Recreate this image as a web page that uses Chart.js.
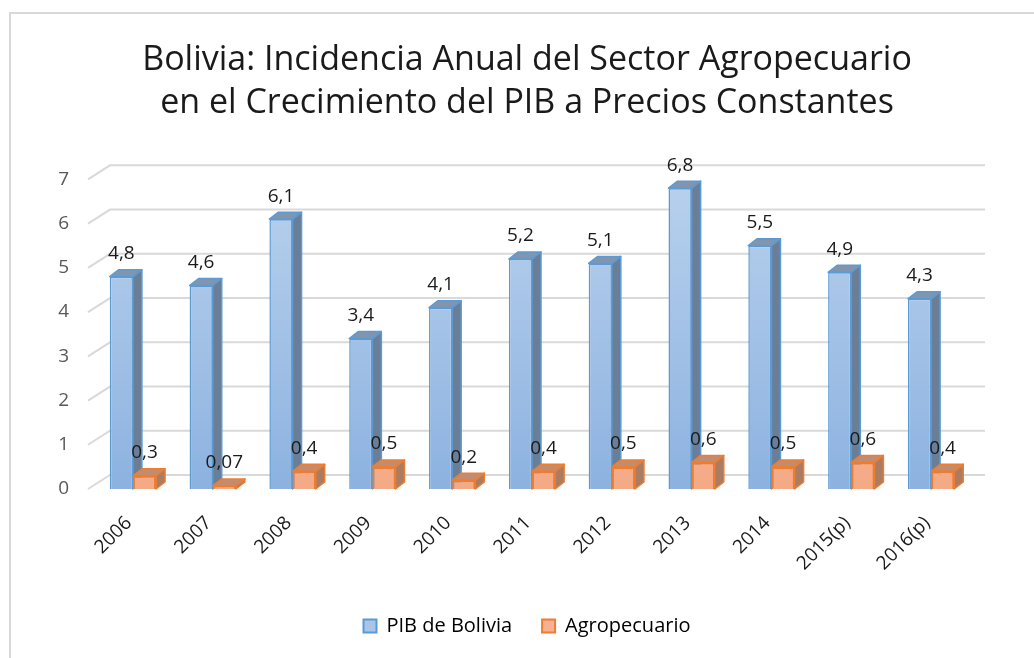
<!DOCTYPE html>
<html>
<head>
<meta charset="utf-8">
<script src="https://cdn.jsdelivr.net/npm/chart.js@4.4.1/dist/chart.umd.min.js"></script>
<style>
  body { margin: 0; background: #fff; }
  #wrap { width: 1034px; height: 658px; }
</style>
</head>
<body>
<div id="wrap"><canvas id="chart" width="1034" height="658"></canvas></div>
<script>
// Data
const years = ['2006', '2007', '2008', '2009', '2010', '2011', '2012', '2013', '2014', '2015(p)', '2016(p)'];
const pibBolivia = [4.8, 4.6, 6.1, 3.4, 4.1, 5.2, 5.1, 6.8, 5.5, 4.9, 4.3];
const agropecuario = [0.3, 0.07, 0.4, 0.5, 0.2, 0.4, 0.5, 0.6, 0.5, 0.6, 0.4];
const yTicks = [0, 1, 2, 3, 4, 5, 6, 7];

const FONT = '"Open Sans", "Noto Sans", sans-serif';
const DEPTH_X = 9, DEPTH_Y = 7;

// colours for front / top / side faces
const faces = [
    { top: '#b8d1ed', bottom: '#8db2e0', edge: '#5b9bd5', lid: '#8195af', side: '#6a7e98' },
    { top: '#f9bca0', bottom: '#f5aa86', edge: '#ed7d31', lid: '#c48c6d', side: '#ab7c62' }
];

function frontFill(i) {
    return (ctx) => {
        const area = ctx.chart.chartArea;
        if (!area) return faces[i].bottom;
        const g = ctx.chart.ctx.createLinearGradient(0, area.top, 0, area.bottom);
        g.addColorStop(0, faces[i].top);
        g.addColorStop(1, faces[i].bottom);
        return g;
    };
}

function fmt(v) {
    return String(v).replace('.', ',');
}

// outer frame of the chart
const framePlugin = {
    id: 'frame',
    beforeDraw(chart) {
        const ctx = chart.ctx;
        ctx.save();
        ctx.fillStyle = '#fff';
        ctx.fillRect(0, 0, chart.width, chart.height);
        ctx.strokeStyle = '#d9d9d9';
        ctx.lineWidth = 2;
        ctx.strokeRect(10, 13, chart.width + 20, chart.height + 20);
        ctx.restore();
    }
};

// gridlines on a back wall with floor diagonals
const wallPlugin = {
    id: 'wall',
    beforeDatasetsDraw(chart) {
        const ctx = chart.ctx;
        const area = chart.chartArea;
        const y = chart.scales.y;
        ctx.save();
        ctx.strokeStyle = '#d9d9d9';
        ctx.lineWidth = 2;
        yTicks.forEach(v => {
            const py = y.getPixelForValue(v);
            ctx.beginPath();
            ctx.moveTo(area.left - 5, py);
            ctx.lineTo(area.left + 17, py - 14);
            ctx.lineTo(area.right + 14, py - 14);
            ctx.stroke();
        });
        ctx.restore();
    }
};

function drawBox(ctx, el, f) {
    const x0 = el.x - el.width / 2, x1 = el.x + el.width / 2;
    const top = Math.min(el.y, el.base), base = Math.max(el.y, el.base);
    ctx.lineWidth = 1.5;
    ctx.strokeStyle = f.edge;
    ctx.lineJoin = 'round';
    // side face
    ctx.beginPath();
    ctx.moveTo(x1, top);
    ctx.lineTo(x1 + DEPTH_X, top - DEPTH_Y);
    ctx.lineTo(x1 + DEPTH_X, base - DEPTH_Y);
    ctx.lineTo(x1, base);
    ctx.closePath();
    ctx.fillStyle = f.side;
    ctx.fill();
    ctx.stroke();
    // top face
    ctx.beginPath();
    ctx.moveTo(x0, top);
    ctx.lineTo(x0 + DEPTH_X, top - DEPTH_Y);
    ctx.lineTo(x1 + DEPTH_X, top - DEPTH_Y);
    ctx.lineTo(x1, top);
    ctx.closePath();
    ctx.fillStyle = f.lid;
    ctx.fill();
    ctx.stroke();
}

// 3d faces, drawn category by category so the orange box sits in front
const boxPlugin = {
    id: 'box3d',
    afterDatasetsDraw(chart) {
        const ctx = chart.ctx;
        const blue = chart.getDatasetMeta(0).data;
        const orange = chart.getDatasetMeta(1).data;
        ctx.save();
        blue.forEach((el, i) => {
            drawBox(ctx, el, faces[0]);
            orange[i].draw(ctx, chart.chartArea);
            drawBox(ctx, orange[i], faces[1]);
        });
        ctx.restore();
    }
};

// value labels above each bar
const valuePlugin = {
    id: 'values',
    afterDraw(chart) {
        const ctx = chart.ctx;
        ctx.save();
        ctx.font = '19px ' + FONT;
        ctx.fillStyle = '#1a1a1a';
        ctx.textAlign = 'center';
        ctx.textBaseline = 'middle';
        chart.data.datasets.forEach((ds, di) => {
            chart.getDatasetMeta(di).data.forEach((el, i) => {
                ctx.fillText(fmt(ds.data[i]), el.x, el.y - 23);
            });
        });
        ctx.restore();
    }
};

new Chart(document.getElementById('chart'), {
    type: 'bar',
    data: {
        labels: years,
        datasets: [
            {
                label: 'PIB de Bolivia',
                data: pibBolivia,
                backgroundColor: frontFill(0),
                borderColor: faces[0].edge,
                borderWidth: 1.5,
                categoryPercentage: 0.58,
                barPercentage: 1
            },
            {
                label: 'Agropecuario',
                data: agropecuario,
                backgroundColor: frontFill(1),
                borderColor: faces[1].edge,
                borderWidth: 2,
                categoryPercentage: 0.58,
                barPercentage: 1
            }
        ]
    },
    options: {
        responsive: false,
        animation: false,
        layout: { padding: { left: 20, right: 0, top: 0, bottom: 12 } },
        plugins: {
            title: {
                display: true,
                text: ['Bolivia: Incidencia Anual del Sector Agropecuario',
                       'en el Crecimiento del PIB a Precios Constantes'],
                color: '#1a1a1a',
                font: { family: FONT, size: 34, weight: 'normal', lineHeight: 1.27 },
                padding: { top: 39, bottom: 54 }
            },
            legend: {
                position: 'bottom',
                labels: {
                    color: '#1a1a1a',
                    font: { family: FONT, size: 20 },
                    boxWidth: 13,
                    boxHeight: 13,
                    padding: 30,
                    generateLabels: (chart) => chart.data.datasets.map((ds, i) => ({
                        text: ds.label,
                        fillStyle: i === 0 ? '#a9c6e9' : '#f7b192',
                        strokeStyle: faces[i].edge,
                        lineWidth: 2,
                        datasetIndex: i,
                        hidden: false
                    }))
                }
            },
            tooltip: { enabled: false }
        },
        scales: {
            x: {
                grid: { display: false, drawTicks: false },
                border: { display: false },
                ticks: {
                    color: '#1a1a1a',
                    font: { family: FONT, size: 19 },
                    minRotation: 45,
                    maxRotation: 45,
                    padding: 23,
                    labelOffset: -4
                },
                afterFit: (scale) => { scale.height = 97; }
            },
            y: {
                min: 0,
                max: 7,
                grid: { display: false, drawTicks: false },
                border: { display: false },
                ticks: {
                    stepSize: 1,
                    color: '#595959',
                    font: { family: FONT, size: 19 },
                    padding: 24
                },
                afterFit: (scale) => { scale.width = 73; }
            },
            // empty axis on the right, keeps room for the back wall
            yRight: {
                position: 'right',
                display: true,
                grid: { display: false, drawTicks: false },
                border: { display: false },
                ticks: { display: false },
                afterFit: (scale) => { scale.width = 63; }
            }
        }
    },
    plugins: [framePlugin, wallPlugin, boxPlugin, valuePlugin]
});
</script>
</body>
</html>
